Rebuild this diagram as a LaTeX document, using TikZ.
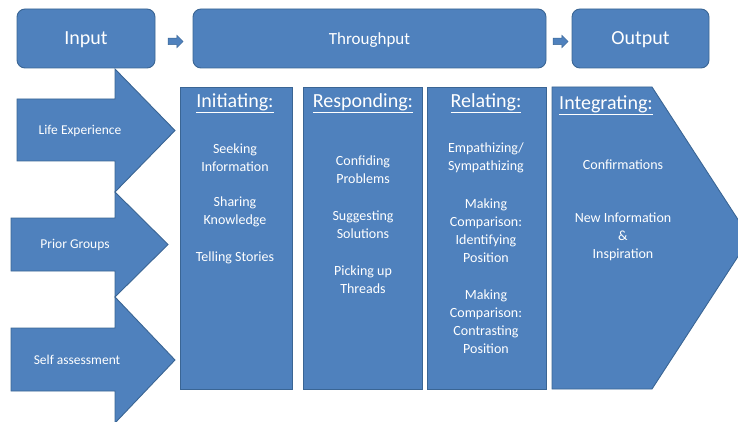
\documentclass[tikz,border=0pt]{standalone}
\usepackage{fontspec}
\setmainfont{Carlito}
\usetikzlibrary{shapes.arrows,calc}
\definecolor{fillb}{HTML}{4F81BD}
\definecolor{edgeb}{HTML}{3A6594}
\tikzset{
  shapebox/.style={fill=fillb, draw=edgeb, line width=0.9pt},
  topbox/.style={shapebox, rounded corners=8pt, minimum height=59pt, inner sep=0pt, text=white, text depth=0pt},
  smallarrow/.style={single arrow, fill=fillb, draw=edgeb, line width=0.5pt, minimum width=12pt, minimum height=15pt, single arrow head extend=3pt, inner sep=3pt},
  lbl/.style={text=white, font=\fontsize{14}{18}\selectfont, align=center, inner sep=0pt},
  sidelbl/.style={text=white, font=\fontsize{13.5}{16}\selectfont, inner sep=0pt},
  headlbl/.style={text=white, font=\fontsize{20}{24}\selectfont, inner sep=0pt},
}
\begin{document}
\begin{tikzpicture}[x=1pt,y=-1pt]
\useasboundingbox (0,0) rectangle (738,422);
% top boxes
\node[topbox, minimum width=138pt, font=\fontsize{20}{24}\selectfont] (input) at (86,38.5) {Input};
\node[topbox, minimum width=353pt, font=\fontsize{17}{20}\selectfont] (through) at (369.5,38.5) {Throughput};
\node[topbox, minimum width=137pt, font=\fontsize{20}{24}\selectfont] (output) at (640.5,38.5) {Output};
\node[smallarrow] (sa1) at ($(input.east)!0.5!(through.west)+(0,3)$) {};
\node[smallarrow] (sa2) at ($(through.east)!0.5!(output.west)+(0,3)$) {};
% left input arrows
\draw[shapebox] (17,99) -- (115,99) -- (115,69) -- (175,130.5) -- (115,192) -- (115,161) -- (17,161) -- cycle;
\draw[shapebox] (11,218) -- (115,218) -- (115,192) -- (168,244.5) -- (115,297) -- (115,271) -- (11,271) -- cycle;
\draw[shapebox] (11,328) -- (115,328) -- (115,297) -- (175,360) -- (115,423) -- (115,391) -- (11,391) -- cycle;
\node[sidelbl] (life) at (80,131) {Life Experience};
\node[sidelbl] (prior) at (75,245) {Prior Groups};
\node[sidelbl] (self) at (77,360) {Self assessment};
% columns
\draw[shapebox] (180,87) rectangle (292,389);
\draw[shapebox] (303,87) rectangle (422,389);
\draw[shapebox] (427,87) rectangle (546,389);
\draw[shapebox] (552,87) -- (652,87) -- (750,238) -- (652,389) -- (552,389) -- cycle;
% headings
\node[headlbl] (hinit) at (235,103) {\underline{Initiating:}};
\node[headlbl] (hresp) at (363,103) {\underline{Responding:}};
\node[headlbl] (hrel) at (486,103) {\underline{Relating:}};
\node[headlbl] (hint) at (606,105) {\underline{Integrating:}};
% items
\node[lbl] (i1) at (235,158) {Seeking\\Information};
\node[lbl] (i2) at (235,212) {Sharing\\Knowledge};
\node[lbl] (i3) at (235,258) {Telling Stories};
\node[lbl] (r1) at (363,170) {Confiding\\Problems};
\node[lbl] (r2) at (363,225) {Suggesting\\Solutions};
\node[lbl] (r3) at (363,280) {Picking up\\Threads};
\node[lbl] (l1) at (486,158) {Empathizing/\\Sympathizing};
\node[lbl] (l2) at (486,231) {Making\\Comparison:\\Identifying\\Position};
\node[lbl] (l3) at (486,322) {Making\\Comparison:\\Contrasting\\Position};
\node[lbl] (g1) at (623,165) {Confirmations};
\node[lbl] (g2) at (623,237) {New Information\\\&\\Inspiration};
\end{tikzpicture}
\end{document}
